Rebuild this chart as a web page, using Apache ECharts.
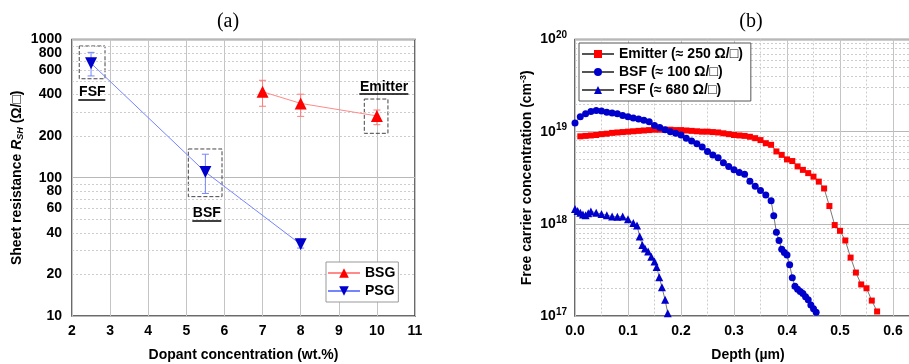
<!DOCTYPE html>
<html>
<head>
<meta charset="utf-8">
<script src="https://cdn.jsdelivr.net/npm/echarts@6/dist/echarts.min.js"></script>
<style>
html, body { margin: 0; padding: 0; background: #fff; }
#main { width: 909px; height: 364px; }
</style>
</head>
<body>
<div id="main"></div>
<script>
// (a) sheet resistance vs dopant concentration
var bsgX = [7, 8, 10];
var bsgR = [419, 345, 280];
var bsgLow = [329, 278, 242];
var bsgHigh = [507, 402, 309];

var psgX = [2.5, 5.5, 8];
var psgR = [673, 110, 33];
var psgLow = [545, 77, 31];
var psgHigh = [807, 148, 36];

var rLabels = [20, 40, 60, 80, 200, 400, 600, 800];
var rMinor = [20, 30, 40, 50, 60, 70, 80, 90, 200, 300, 400, 500, 600, 700, 800, 900];

// (b) free carrier profiles
var emitterDepth = [0.01, 0.02, 0.03, 0.04, 0.05, 0.06, 0.07, 0.08, 0.09, 0.10,
  0.11, 0.12, 0.13, 0.14, 0.15, 0.16, 0.17, 0.18, 0.19, 0.20,
  0.21, 0.22, 0.23, 0.24, 0.25, 0.26, 0.27, 0.28, 0.29, 0.30,
  0.31, 0.32, 0.33, 0.34, 0.35, 0.36, 0.37, 0.38, 0.39, 0.40,
  0.41, 0.42, 0.43, 0.44, 0.45, 0.46, 0.47, 0.48, 0.49, 0.50,
  0.51, 0.52, 0.53, 0.54, 0.55, 0.56, 0.57];
var emitterConc = [8.9e18, 9.0e18, 9.1e18, 9.2e18, 9.4e18, 9.5e18, 9.7e18, 9.8e18, 9.9e18, 1.0e19,
  1.01e19, 1.02e19, 1.03e19, 1.04e19, 1.05e19, 1.05e19, 1.05e19, 1.05e19, 1.04e19, 1.04e19,
  1.03e19, 1.02e19, 1.01e19, 1.0e19, 1.0e19, 9.9e18, 9.8e18, 9.6e18, 9.4e18, 9.2e18,
  9.1e18, 9.0e18, 8.8e18, 8.5e18, 8.1e18, 7.5e18, 7.2e18, 6.1e18, 5.6e18, 5.0e18,
  4.8e18, 4.2e18, 3.85e18, 3.55e18, 3.25e18, 2.87e18, 2.42e18, 1.56e18, 9.7e17, 8.4e17,
  6.6e17, 4.3e17, 2.96e17, 2.2e17, 2.0e17, 1.47e17, 1.12e17];

var bsfDepth = [0.00, 0.01, 0.02, 0.03, 0.04, 0.05, 0.06, 0.07, 0.08, 0.09,
  0.10, 0.11, 0.12, 0.13, 0.14, 0.15, 0.16, 0.17, 0.18, 0.19,
  0.20, 0.21, 0.22, 0.23, 0.24, 0.25, 0.26, 0.27, 0.28, 0.29,
  0.30, 0.31, 0.32, 0.33, 0.34, 0.35, 0.36, 0.37,
  0.375, 0.38, 0.385, 0.39, 0.395, 0.40, 0.405, 0.41, 0.415, 0.42,
  0.425, 0.43, 0.435, 0.44, 0.445, 0.45, 0.455];
var bsfConc = [1.24e19, 1.45e19, 1.56e19, 1.65e19, 1.70e19, 1.68e19, 1.62e19, 1.59e19, 1.56e19, 1.5e19,
  1.45e19, 1.41e19, 1.37e19, 1.33e19, 1.28e19, 1.17e19, 1.11e19, 1.05e19, 1.0e19, 9.6e18,
  9.2e18, 8.5e18, 7.9e18, 7.4e18, 6.8e18, 6.1e18, 5.6e18, 5.2e18, 4.6e18, 4.2e18,
  3.85e18, 3.6e18, 3.45e18, 2.9e18, 2.55e18, 2.3e18, 2.05e18, 1.78e18,
  1.22e18, 8.1e17, 6.6e17, 5.3e17, 4.9e17, 4.6e17, 3.6e17, 2.6e17, 2.1e17, 1.95e17,
  1.85e17, 1.75e17, 1.62e17, 1.5e17, 1.32e17, 1.2e17, 1.1e17];

var fsfDepth = [0.000, 0.005, 0.010, 0.015, 0.020, 0.025, 0.030, 0.040, 0.050, 0.060,
  0.070, 0.080, 0.090, 0.100, 0.110, 0.117, 0.122, 0.127, 0.132, 0.138,
  0.144, 0.150, 0.154, 0.159, 0.164, 0.170, 0.175];
var fsfConc = [1.45e18, 1.38e18, 1.32e18, 1.26e18, 1.24e18, 1.30e18, 1.36e18, 1.32e18, 1.28e18, 1.24e18,
  1.20e18, 1.19e18, 1.20e18, 1.12e18, 1.02e18, 9.6e17, 7.3e17, 5.9e17, 5.4e17, 5.0e17,
  4.4e17, 3.9e17, 3.4e17, 2.64e17, 2.05e17, 1.5e17, 1.07e17];

var concMinor = [2e17, 3e17, 4e17, 5e17, 6e17, 7e17, 8e17, 9e17,
  2e18, 3e18, 4e18, 5e18, 6e18, 7e18, 8e18, 9e18,
  2e19, 3e19, 4e19, 5e19, 6e19, 7e19, 8e19, 9e19];

var FONT = '"Liberation Sans", Arial, sans-serif';
var RED = '#ff0000';
var BLUE = '#0000cc';

function pairs(xs, ys) {
  return xs.map(function (x, i) { return [x, ys[i]]; });
}

// vertical error bars with small caps
function errorBars(xs, lo, hi, color) {
  return {
    type: 'custom',
    xAxisIndex: 0,
    yAxisIndex: 0,
    silent: true,
    z: 2,
    data: xs.map(function (x, i) { return [x, lo[i], hi[i]]; }),
    renderItem: function (params, api) {
      var top = api.coord([api.value(0), api.value(2)]);
      var bot = api.coord([api.value(0), api.value(1)]);
      var w = 3.5;
      var st = { stroke: color, lineWidth: 1 };
      return {
        type: 'group',
        children: [
          { type: 'line', shape: { x1: top[0], y1: top[1], x2: bot[0], y2: bot[1] }, style: st },
          { type: 'line', shape: { x1: top[0] - w, y1: top[1], x2: top[0] + w, y2: top[1] }, style: st },
          { type: 'line', shape: { x1: bot[0] - w, y1: bot[1], x2: bot[0] + w, y2: bot[1] }, style: st }
        ]
      };
    }
  };
}

function gridLines(values, labels) {
  return values.map(function (v) {
    var item = { yAxis: v };
    if (labels && labels.indexOf(v) >= 0) {
      item.label = { show: true, formatter: String(v) };
    }
    return item;
  });
}

var minorStyle = { color: '#cdcdcd', width: 1, type: [2, 2] };
var tickFont = { fontSize: 14, fontWeight: 'bold', color: '#000', fontFamily: FONT };
var noteLabel = { show: true, position: 'inside', formatter: '{b}', fontSize: 14, fontWeight: 'bold', color: '#000', fontFamily: FONT };

var chart = echarts.init(document.getElementById('main'));

var option = {
  animation: false,
  graphic: [
    { type: 'text', x: 228, y: 22, style: { text: '(a)', font: '20px "Liberation Serif", serif', fill: '#000', textAlign: 'center', textVerticalAlign: 'middle' } },
    { type: 'text', x: 751, y: 22, style: { text: '(b)', font: '20px "Liberation Serif", serif', fill: '#000', textAlign: 'center', textVerticalAlign: 'middle' } }
  ],
  grid: [
    { left: 72, right: 494, top: 39.5, bottom: 48, show: true, borderColor: '#3a3a3a', borderWidth: 1.5, outerBoundsMode: 'none' },
    { left: 575, right: -37, top: 39.5, bottom: 48, show: true, borderColor: '#3a3a3a', borderWidth: 1.5, outerBoundsMode: 'none' }
  ],
  legend: [
    {
      data: ['BSG', 'PSG'],
      left: 326, top: 262,
      orient: 'vertical',
      itemWidth: 32, itemHeight: 12, itemGap: 4,
      padding: [4, 3, 4, 1],
      borderColor: '#999', borderWidth: 1, backgroundColor: '#fff',
      textStyle: { fontSize: 14, fontWeight: 'bold', color: '#000', fontFamily: FONT }
    },
    {
      data: ['Emitter (≈ 250 Ω/□)', 'BSF (≈ 100 Ω/□)', 'FSF (≈ 680 Ω/□)'],
      left: 579, top: 43,
      orient: 'vertical',
      itemWidth: 32, itemHeight: 10, itemGap: 4,
      padding: [4, 8, 4, 2],
      borderColor: '#555', borderWidth: 1, backgroundColor: '#fff',
      textStyle: { fontSize: 14, fontWeight: 'bold', color: '#000', fontFamily: FONT }
    }
  ],
  xAxis: [
    {
      gridIndex: 0, type: 'value', min: 2, max: 11, interval: 1,
      name: 'Dopant concentration (wt.%)', nameLocation: 'middle', nameGap: 32,
      nameTextStyle: tickFont,
      axisLine: { show: false }, axisTick: { show: false },
      axisLabel: tickFont,
      splitLine: { show: true, lineStyle: { color: '#c4c4c4', width: 1 } }
    },
    {
      gridIndex: 1, type: 'value', min: 0, max: 0.7, interval: 0.1,
      name: 'Depth (µm)', nameLocation: 'middle', nameGap: 32,
      nameTextStyle: Object.assign({ padding: [0, 25, 0, 0] }, tickFont),
      axisLine: { show: false }, axisTick: { show: false },
      axisLabel: Object.assign({ formatter: function (v) { return v.toFixed(1); } }, tickFont),
      splitLine: { show: true, lineStyle: { color: '#c4c4c4', width: 1 } },
      minorTick: { show: false, splitNumber: 2 },
      minorSplitLine: { show: true, lineStyle: minorStyle }
    }
  ],
  yAxis: [
    {
      gridIndex: 0, type: 'log', logBase: 10, min: 10, max: 1000,
      name: '{a|Sheet resistance }{i|R}{s|SH}{a| (Ω/□)}',
      nameLocation: 'middle', nameGap: 47, nameRotate: 90,
      nameTextStyle: {
        rich: {
          a: { fontSize: 14, fontWeight: 'bold', color: '#000', fontFamily: FONT },
          i: { fontSize: 14, fontWeight: 'bold', fontStyle: 'italic', color: '#000', fontFamily: FONT },
          s: { fontSize: 9, fontWeight: 'bold', fontStyle: 'italic', color: '#000', fontFamily: FONT, padding: [6, 0, 0, 0] }
        }
      },
      axisLine: { show: false }, axisTick: { show: false },
      axisLabel: Object.assign({ margin: 10, formatter: function (v) { return String(Math.round(v)); } }, tickFont),
      splitLine: { show: true, lineStyle: { color: '#b8b8b8', width: 1 } }
    },
    {
      gridIndex: 1, type: 'log', logBase: 10, min: 1e17, max: 1e20,
      name: '{a|Free carrier concentration (cm}{p|-3}{a|)}',
      nameLocation: 'middle', nameGap: 40, nameRotate: 90,
      nameTextStyle: {
        rich: {
          a: { fontSize: 14, fontWeight: 'bold', color: '#000', fontFamily: FONT },
          p: { fontSize: 9, fontWeight: 'bold', color: '#000', fontFamily: FONT, padding: [0, 0, 7, 0] }
        }
      },
      axisLine: { show: false }, axisTick: { show: false },
      axisLabel: {
        margin: 8,
        formatter: function (v) { return '{b|10}{p|' + Math.round(Math.log10(v)) + '}'; },
        rich: {
          b: { fontSize: 14, fontWeight: 'bold', color: '#000', fontFamily: FONT },
          p: { fontSize: 10, fontWeight: 'bold', color: '#000', fontFamily: FONT, padding: [0, 0, 8, 0] }
        }
      },
      splitLine: { show: true, lineStyle: { color: '#b8b8b8', width: 1 } }
    }
  ],
  series: [
    // minor grid + extra tick labels of (a)
    {
      name: 'gridA', type: 'line', xAxisIndex: 0, yAxisIndex: 0, data: [],
      markLine: {
        silent: true, z: 1, animation: false, symbol: ['none', 'none'],
        lineStyle: minorStyle,
        label: Object.assign({ show: false, position: 'start', distance: 10 }, tickFont),
        emphasis: { disabled: true },
        data: gridLines(rMinor, rLabels)
      }
    },
    errorBars(bsgX, bsgLow, bsgHigh, '#ff7b7b'),
    errorBars(psgX, psgLow, psgHigh, '#7484ff'),
    {
      name: 'BSG', type: 'line', xAxisIndex: 0, yAxisIndex: 0, z: 3,
      data: pairs(bsgX, bsgR),
      symbol: 'triangle', symbolSize: 12,
      itemStyle: { color: RED },
      lineStyle: { color: '#ff8a8a', width: 1 },
      markArea: {
        silent: true, label: { show: false },
        itemStyle: { color: 'rgba(0,0,0,0)', borderColor: '#444', borderWidth: 1, borderType: 'dashed' },
        data: [[{ coord: [9.67, 371] }, { coord: [10.29, 209.6] }]]
      },
      markPoint: {
        silent: true, symbol: 'rect', symbolSize: 1, itemStyle: { color: 'rgba(0,0,0,0)' },
        label: noteLabel,
        data: [{ name: 'Emitter', coord: [10.187, 453] }]
      },
      markLine: {
        silent: true, symbol: ['none', 'none'], label: { show: false },
        lineStyle: { color: '#000', width: 1.5, type: 'solid' },
        data: [[{ coord: [9.539, 405.6] }, { coord: [10.825, 405.6] }]]
      }
    },
    {
      name: 'PSG', type: 'line', xAxisIndex: 0, yAxisIndex: 0, z: 3,
      data: pairs(psgX, psgR),
      symbol: 'triangle', symbolSize: 12, symbolRotate: 180,
      itemStyle: { color: BLUE },
      lineStyle: { color: '#7484ff', width: 1 },
      markArea: {
        silent: true, label: { show: false },
        itemStyle: { color: 'rgba(0,0,0,0)', borderColor: '#444', borderWidth: 1, borderType: 'dashed' },
        data: [
          [{ coord: [2.19, 897] }, { coord: [2.866, 520] }],
          [{ coord: [5.052, 161.5] }, { coord: [5.936, 73] }]
        ]
      },
      markPoint: {
        silent: true, symbol: 'rect', symbolSize: 1, itemStyle: { color: 'rgba(0,0,0,0)' },
        label: noteLabel,
        data: [
          { name: 'FSF', coord: [2.533, 417] },
          { name: 'BSF', coord: [5.537, 55.6] }
        ]
      },
      markLine: {
        silent: true, symbol: ['none', 'none'], label: { show: false },
        lineStyle: { color: '#000', width: 1.5, type: 'solid' },
        data: [
          [{ coord: [2.165, 369.5] }, { coord: [2.874, 369.5] }],
          [{ coord: [5.157, 48.9] }, { coord: [5.918, 48.9] }]
        ]
      }
    },
    // minor horizontal grid of (b)
    {
      name: 'gridB', type: 'line', xAxisIndex: 1, yAxisIndex: 1, data: [],
      markLine: {
        silent: true, z: 1, animation: false, symbol: ['none', 'none'],
        lineStyle: minorStyle, label: { show: false },
        emphasis: { disabled: true },
        data: gridLines(concMinor)
      }
    },
    {
      name: 'Emitter (≈ 250 Ω/□)', type: 'line', xAxisIndex: 1, yAxisIndex: 1, z: 3,
      data: pairs(emitterDepth, emitterConc),
      symbol: 'rect', symbolSize: 6,
      itemStyle: { color: RED },
      lineStyle: { color: '#555', width: 0.8 }
    },
    {
      name: 'BSF (≈ 100 Ω/□)', type: 'line', xAxisIndex: 1, yAxisIndex: 1, z: 3,
      data: pairs(bsfDepth, bsfConc),
      symbol: 'circle', symbolSize: 7,
      itemStyle: { color: BLUE },
      lineStyle: { color: '#555', width: 0.8 }
    },
    {
      name: 'FSF (≈ 680 Ω/□)', type: 'line', xAxisIndex: 1, yAxisIndex: 1, z: 3,
      data: pairs(fsfDepth, fsfConc),
      symbol: 'triangle', symbolSize: 8,
      itemStyle: { color: BLUE },
      lineStyle: { color: '#555', width: 0.8 }
    }
  ]
};

chart.setOption(option);
</script>
</body>
</html>
